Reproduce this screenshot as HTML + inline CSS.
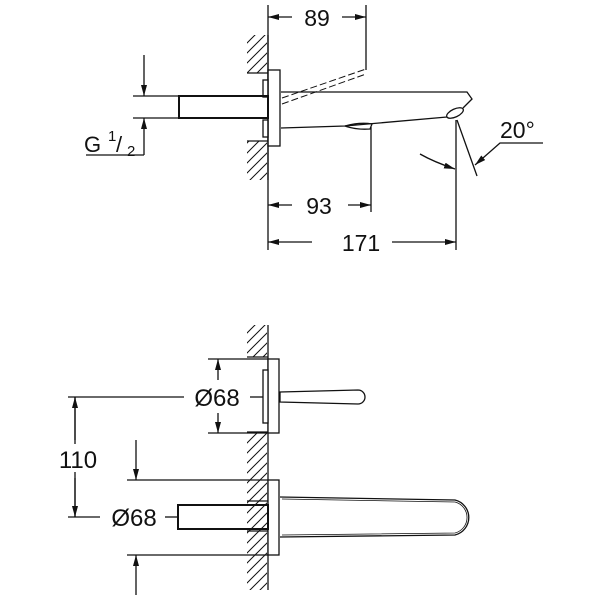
<!DOCTYPE html>
<html><head><style>body{margin:0;background:#fff}svg{display:block}</style></head><body>
<svg width="600" height="600" viewBox="0 0 600 600" xmlns="http://www.w3.org/2000/svg" font-family="Liberation Sans, sans-serif" fill="none" stroke="#111" stroke-width="1.3">
<defs>
<marker id="a" markerWidth="11" markerHeight="6" refX="11" refY="3" orient="auto" markerUnits="userSpaceOnUse" viewBox="0 0 11 6"><path d="M0,0 L11,3 L0,6z" fill="#111" stroke="none"/></marker>
<pattern id="h" width="10" height="10" patternUnits="userSpaceOnUse"><path d="M0,10 L10,0 M-2,2 L2,-2 M8,12 L12,8" stroke="#111" stroke-width="1"/></pattern>
</defs>
<rect x="247" y="35" width="20" height="38" fill="url(#h)" stroke="none"/>
<rect x="247" y="141" width="20" height="39" fill="url(#h)" stroke="none"/>
<line x1="268" y1="35" x2="268" y2="180"/>
<line x1="247" y1="73" x2="268" y2="73"/>
<line x1="247" y1="141" x2="268" y2="141"/>
<rect x="268" y="70" width="12" height="76" fill="#fff"/>
<rect x="263" y="80" width="5" height="17" fill="#fff"/><rect x="263" y="120" width="5" height="17" fill="#fff"/>
<rect x="179" y="96" width="89" height="22" stroke-width="2"/>
<line x1="133" y1="96" x2="179" y2="96"/><line x1="133" y1="118" x2="179" y2="118"/>
<line x1="144" y1="55" x2="144" y2="96" marker-end="url(#a)"/>
<line x1="144" y1="155" x2="144" y2="118" marker-end="url(#a)"/>
<line x1="86" y1="155" x2="144" y2="155"/>
<text x="84" y="152" font-size="22" fill="#111" stroke="none">G</text>
<text x="108" y="141" font-size="15" fill="#111" stroke="none">1</text>
<text x="116" y="152" font-size="22" fill="#111" stroke="none">/</text>
<text x="127" y="156" font-size="15" fill="#111" stroke="none">2</text>
<path d="M281,92 L467,92 L472,99 L463,108 M281,128 L345,126 L447,117"/>
<path d="M345,126 Q360,122 372,124 L370,129 Q356,130 345,126z"/>
<ellipse cx="455" cy="113" rx="9" ry="4" transform="rotate(-25 455 113)"/>
<path d="M282,98 L366,69 M282,104 L366,74" stroke-dasharray="7,3" stroke-width="1"/>
<line x1="366" y1="5" x2="366" y2="70"/>
<line x1="268" y1="5" x2="268" y2="250"/>
<line x1="292" y1="17" x2="268" y2="17" marker-end="url(#a)"/>
<line x1="342" y1="17" x2="366" y2="17" marker-end="url(#a)"/>
<text x="317" y="26" font-size="23" fill="#111" stroke="none" text-anchor="middle">89</text>
<line x1="371" y1="127" x2="371" y2="212"/>
<line x1="292" y1="205" x2="268" y2="205" marker-end="url(#a)"/>
<line x1="348" y1="205" x2="371" y2="205" marker-end="url(#a)"/>
<text x="319" y="214" font-size="23" fill="#111" stroke="none" text-anchor="middle">93</text>
<line x1="456" y1="120" x2="456" y2="250"/>
<line x1="312" y1="242" x2="268" y2="242" marker-end="url(#a)"/>
<line x1="392" y1="242" x2="456" y2="242" marker-end="url(#a)"/>
<text x="361" y="251" font-size="23" fill="#111" stroke="none" text-anchor="middle">171</text>
<line x1="457" y1="120" x2="477" y2="176"/>
<path d="M420,154 Q434,162 455,169" marker-end="url(#a)"/>
<path d="M543,143 L500,143 L475,165" marker-end="url(#a)"/>
<text x="500" y="138" font-size="23" fill="#111" stroke="none">20°</text>
<rect x="247" y="325" width="20" height="32" fill="url(#h)" stroke="none"/>
<rect x="247" y="432" width="20" height="158" fill="url(#h)" stroke="none"/>
<line x1="268" y1="325" x2="268" y2="590"/>
<line x1="247" y1="357" x2="268" y2="357"/><line x1="247" y1="432" x2="268" y2="432"/>
<line x1="247" y1="501" x2="268" y2="501"/><line x1="247" y1="531" x2="268" y2="531"/>
<rect x="268" y="359" width="11" height="74" fill="#fff"/>
<rect x="263" y="370" width="5" height="53" fill="#fff"/>
<path d="M280,392 L358,390 A6,6 0 0 1 358,404 L280,402z"/>
<line x1="208" y1="359" x2="268" y2="359"/><line x1="208" y1="433" x2="268" y2="433"/>
<line x1="218" y1="380" x2="218" y2="359" marker-end="url(#a)"/>
<line x1="218" y1="413" x2="218" y2="433" marker-end="url(#a)"/>
<line x1="68" y1="397" x2="184" y2="397"/><line x1="250" y1="397" x2="263" y2="397"/>
<text x="217" y="406" font-size="24" fill="#111" stroke="none" text-anchor="middle">Ø68</text>
<line x1="75" y1="397" x2="75" y2="517"/>
<line x1="75" y1="440" x2="75" y2="397" marker-end="url(#a)"/>
<line x1="75" y1="478" x2="75" y2="517" marker-end="url(#a)"/>
<rect x="54" y="444" width="48" height="28" fill="#fff" stroke="none"/>
<text x="78" y="468" font-size="24" fill="#111" stroke="none" text-anchor="middle">110</text>
<line x1="68" y1="517" x2="100" y2="517"/><line x1="165" y1="517" x2="178" y2="517"/>
<text x="134" y="526" font-size="24" fill="#111" stroke="none" text-anchor="middle">Ø68</text>
<rect x="268" y="480" width="11" height="75" fill="#fff"/>
<rect x="178" y="505" width="90" height="24" stroke-width="2"/>
<line x1="127" y1="480" x2="268" y2="480"/><line x1="127" y1="555" x2="268" y2="555"/>
<line x1="136" y1="440" x2="136" y2="480" marker-end="url(#a)"/>
<line x1="136" y1="595" x2="136" y2="555" marker-end="url(#a)"/>
<path d="M280,497 L455,500 A18,18 0 0 1 455,535 L280,537"/>
<path d="M282,499 L455,502 A16,16 0 0 1 455,533 L282,535" stroke-width="0.8"/>
</svg>
</body></html>
